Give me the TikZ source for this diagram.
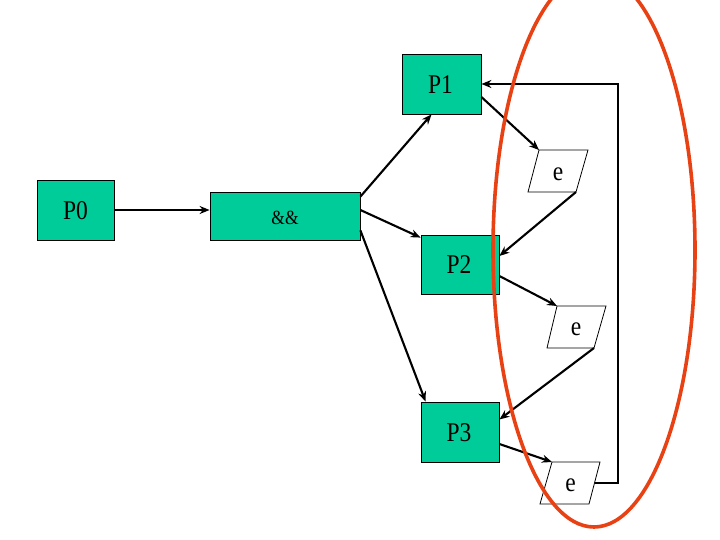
\documentclass[tikz,border=0pt]{standalone}
\usepackage{fontspec}
\setmainfont{Liberation Serif}
\usetikzlibrary{arrows.meta,calc}
\definecolor{boxgreen}{RGB}{0,204,153}
\definecolor{ringred}{RGB}{232,65,20}
\newcommand{\tallt}[1]{\scalebox{1}[1.15]{#1}}
\begin{document}
\begin{tikzpicture}[x=1pt,y=-1pt,
  proc/.style={draw=black, line width=0.8pt, fill=boxgreen, inner sep=0pt},
  lbl/.style={font=\fontsize{23.5}{23.5}\selectfont, inner sep=0pt},
  conn/.style={line width=2.1pt, -{Stealth[length=10pt,width=8pt]}},
  plg/.style={draw=black, line width=0.8pt}]
\useasboundingbox (0,0) rectangle (720,540);

% process boxes
\node[proc, minimum width=77pt, minimum height=60pt] (P0) at (75.5,210) {};
\node[proc, minimum width=150pt, minimum height=48pt] (amp) at (285,216) {};
\node[proc, minimum width=79pt, minimum height=60pt] (P1) at (441.5,84) {};
\node[proc, minimum width=78pt, minimum height=59pt] (P2) at (460,264.5) {};
\node[proc, minimum width=78pt, minimum height=60pt] (P3) at (460,432) {};

\node[lbl] (tP0) at (75.5,211) {\tallt{P0}};
\node[font=\fontsize{17.5}{17.5}\selectfont, inner sep=0pt] (tamp) at (285,218) {\tallt{\&\&}};
\node[lbl] (tP1) at (440.5,85) {\tallt{P1}};
\node[lbl] (tP2) at (459,265) {\tallt{P2}};
\node[lbl] (tP3) at (459,433) {\tallt{P3}};

% parallelograms
\coordinate (e1tl) at (539,150); \coordinate (e1tr) at (588,150);
\coordinate (e1br) at (576,192); \coordinate (e1bl) at (528,192);
\coordinate (e2tl) at (557,306); \coordinate (e2tr) at (606,306);
\coordinate (e2br) at (594,348); \coordinate (e2bl) at (547,348);
\coordinate (e3tl) at (552,462); \coordinate (e3tr) at (600,462);
\coordinate (e3br) at (589,504); \coordinate (e3bl) at (540,504);
\draw[plg] (e1tl) -- (e1tr) -- (e1br) -- (e1bl) -- cycle;
\draw[plg] (e2tl) -- (e2tr) -- (e2br) -- (e2bl) -- cycle;
\draw[plg] (e3tl) -- (e3tr) -- (e3br) -- (e3bl) -- cycle;
\node[lbl] (e1) at (558,174) {\tallt{e}};
\node[lbl] (e2) at (576,329.5) {\tallt{e}};
\node[lbl] (e3) at (570.5,485) {\tallt{e}};

% connectors
\draw[conn] (P0.east) -- ($(amp.west)+(0,-6)$);
\draw[conn] ($(amp.north east)+(0,5)$) -- ($(P1.south)+(-10,0)$);
\draw[conn] ($(amp.east)+(0,-6)$) -- ($(P2.north west)+(0,3)$);
\draw[conn] ($(amp.south east)+(0,-10)$) -- ($(P3.north west)+(5,0)$);
\draw[conn] ($(P1.east)+(0,13)$) -- (e1tl);
\draw[conn] (e1br) -- ($(P2.east)+(0,-8.5)$);
\draw[conn] ($(P2.east)+(0,11.5)$) -- (e2tl);
\draw[conn] (e2br) -- ($(P3.east)+(0,-12.5)$);
\draw[conn] ($(P3.east)+(0,12)$) -- (e3tl);
\coordinate (e3r) at (594.5,483);
\coordinate (fbA) at (618,483);
\coordinate (fbB) at (618,84);
\draw[line width=2.4pt, -{Stealth[length=10pt,width=8pt]}] (e3r) -- (fbA) -- (fbB) -- (P1.east);

% red ring
\draw[ringred, line width=3.6pt] (594,250) ellipse [x radius=101, y radius=277];
\end{tikzpicture}
\end{document}
